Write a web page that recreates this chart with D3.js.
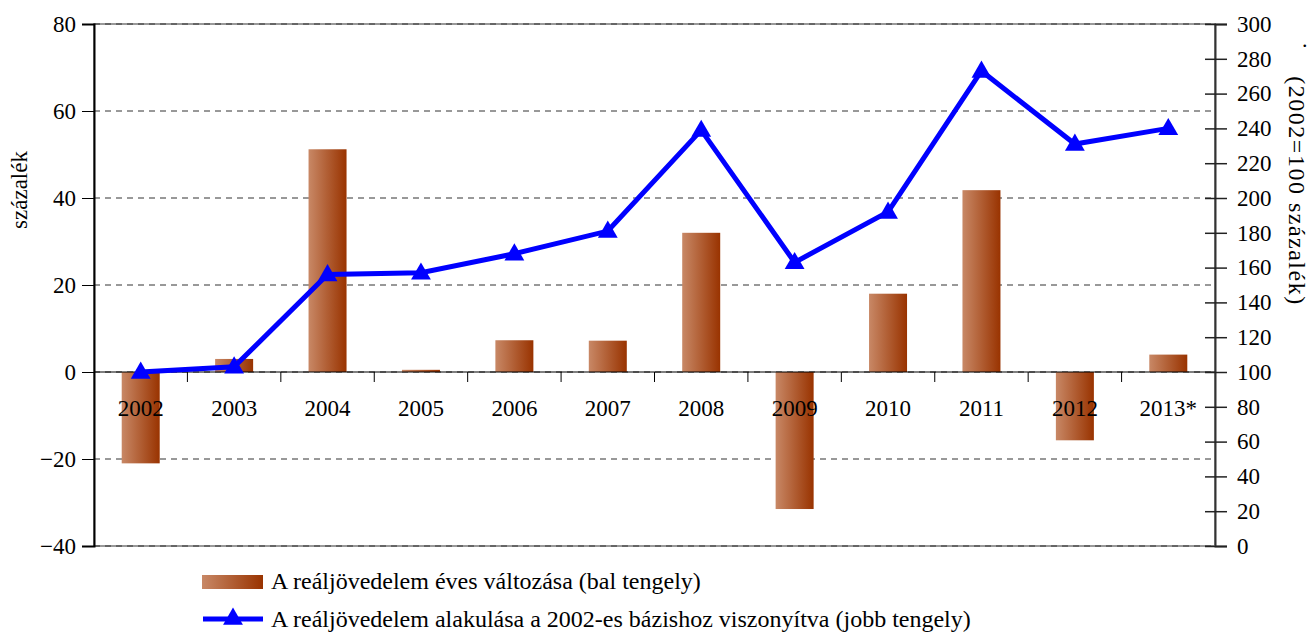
<!DOCTYPE html>
<html>
<head>
<meta charset="utf-8">
<script src="https://cdn.jsdelivr.net/npm/d3@7"></script>
<style>
  body { margin: 0; background: #fff; }
</style>
</head>
<body>
<div id="chart"></div>
<script>
// Data
const years = ["2002", "2003", "2004", "2005", "2006", "2007", "2008", "2009", "2010", "2011", "2012", "2013*"];
const annualChange = [-21, 3, 51.2, 0.5, 7.3, 7.2, 32, -31.5, 18, 41.8, -15.7, 4];
const indexValues = [100, 103, 156, 157, 168, 181, 239, 163, 192, 273, 231, 240];
const leftTicks = [-40, -20, 0, 20, 40, 60, 80];
const rightTicks = d3.range(0, 301, 20);

const FONT = "'Liberation Serif', 'Times New Roman', Times, 'DejaVu Serif', serif";

const W = 1313, H = 632;
const margin = {top: 24, right: 98, bottom: 86, left: 94};
const width = W - margin.left - margin.right;
const height = H - margin.top - margin.bottom;

const svg = d3.select("#chart")
    .append("svg")
    .attr("width", W)
    .attr("height", H)
    .style("font-family", FONT);

// Gradient for the bars
const grad = svg.append("defs").append("linearGradient")
    .attr("id", "barGrad")
    .attr("x1", "0%").attr("x2", "100%");
grad.append("stop").attr("offset", "0%").attr("stop-color", "#c88866");
grad.append("stop").attr("offset", "100%").attr("stop-color", "#993300");

const g = svg.append("g")
    .attr("transform", `translate(${margin.left}, ${margin.top})`);

// Scales
const x = d3.scaleBand().domain(years).range([0, width]);
const yL = d3.scaleLinear().domain([-40, 80]).range([height, 0]);
const yR = d3.scaleLinear().domain([0, 300]).range([height, 0]);

// Plot border
g.append("rect")
    .attr("width", width)
    .attr("height", height)
    .attr("fill", "none")
    .attr("stroke", "#999")
    .attr("stroke-width", 2);

// Dashed gridlines
g.selectAll(".grid")
    .data(leftTicks)
    .enter()
    .append("line")
    .attr("x1", 0).attr("x2", width)
    .attr("y1", d => yL(d)).attr("y2", d => yL(d))
    .attr("stroke", "#333")
    .attr("stroke-width", 1)
    .attr("stroke-dasharray", "6,5");

// Bars
const barW = 38;
g.selectAll(".bar")
    .data(annualChange)
    .enter()
    .append("rect")
    .attr("x", (d, i) => x(years[i]) + x.bandwidth() / 2 - barW / 2)
    .attr("y", d => yL(Math.max(0, d)))
    .attr("width", barW)
    .attr("height", d => Math.abs(yL(d) - yL(0)))
    .attr("fill", "url(#barGrad)");

// Category axis on zero line
g.append("line")
    .attr("x1", 0).attr("x2", width)
    .attr("y1", yL(0)).attr("y2", yL(0))
    .attr("stroke", "#000")
    .attr("stroke-width", 1);
g.selectAll(".ctick")
    .data(years.slice(1))
    .enter()
    .append("line")
    .attr("x1", d => x(d)).attr("x2", d => x(d))
    .attr("y1", yL(0)).attr("y2", yL(0) + 10)
    .attr("stroke", "#000");
g.selectAll(".clabel")
    .data(years)
    .enter()
    .append("text")
    .attr("x", d => x(d) + x.bandwidth() / 2)
    .attr("y", yL(0) + 44)
    .attr("text-anchor", "middle")
    .style("font-family", FONT)
    .style("font-size", "23px")
    .text(d => d);

// Left axis
const leftAxis = g.append("g")
    .call(d3.axisLeft(yL).tickValues(leftTicks).tickSize(12).tickPadding(6))
    .attr("font-family", null);
leftAxis.select(".domain").attr("stroke", "#000").attr("stroke-width", 2);
leftAxis.selectAll("text").style("font-family", FONT).style("font-size", "23px").attr("fill", "#000");

// Right axis
const rightAxis = g.append("g")
    .attr("transform", `translate(${width}, 0)`)
    .call(d3.axisRight(yR).tickValues(rightTicks).tickSize(12).tickPadding(10))
    .attr("font-family", null);
rightAxis.select(".domain").attr("stroke", "#333").attr("stroke-width", 2);
rightAxis.selectAll(".tick line").attr("x1", -10).attr("stroke", "#222").attr("stroke-width", 1.5);
rightAxis.selectAll("text").style("font-family", FONT).style("font-size", "23px").attr("fill", "#000");

// Line series
const line = d3.line()
    .x((d, i) => x(years[i]) + x.bandwidth() / 2)
    .y(d => yR(d));
g.append("path")
    .datum(indexValues)
    .attr("d", line)
    .attr("fill", "none")
    .attr("stroke", "#0000ff")
    .attr("stroke-width", 5)
    .attr("stroke-linejoin", "miter");

const tri = d3.symbol().type(d3.symbolTriangle).size(170);
g.selectAll(".marker")
    .data(indexValues)
    .enter()
    .append("path")
    .attr("d", tri)
    .attr("transform", (d, i) => `translate(${x(years[i]) + x.bandwidth() / 2}, ${yR(d) + 1})`)
    .attr("fill", "#0000ff");

// Axis titles
svg.append("text")
    .attr("transform", `translate(27, 190) rotate(-90)`)
    .attr("text-anchor", "middle")
    .style("font-family", FONT)
    .style("font-size", "23px")
    .text("százalék");
svg.append("text")
    .attr("transform", `translate(1289, 191) rotate(90)`)
    .attr("text-anchor", "middle")
    .style("font-family", FONT)
    .style("font-size", "24px")
    .style("letter-spacing", "1.5px")
    .text("(2002=100 százalék)");
svg.append("text")
    .attr("x", 1302)
    .attr("y", 47)
    .style("font-family", FONT)
    .style("font-size", "22px")
    .text(".");

// Legend
const legend = svg.append("g");
legend.append("rect")
    .attr("x", 202).attr("y", 575)
    .attr("width", 61).attr("height", 14)
    .attr("fill", "url(#barGrad)");
legend.append("text")
    .attr("x", 271).attr("y", 589)
    .style("font-family", FONT)
    .style("font-size", "24px")
    .text("A reáljövedelem éves változása (bal tengely)");
legend.append("line")
    .attr("x1", 203).attr("x2", 263)
    .attr("y1", 619).attr("y2", 619)
    .attr("stroke", "#0000ff")
    .attr("stroke-width", 5);
legend.append("path")
    .attr("d", tri)
    .attr("transform", "translate(233, 619)")
    .attr("fill", "#0000ff");
legend.append("text")
    .attr("x", 271).attr("y", 627)
    .style("font-family", FONT)
    .style("font-size", "24px")
    .text("A reáljövedelem alakulása a 2002-es bázishoz viszonyítva (jobb tengely)");
</script>
</body>
</html>
